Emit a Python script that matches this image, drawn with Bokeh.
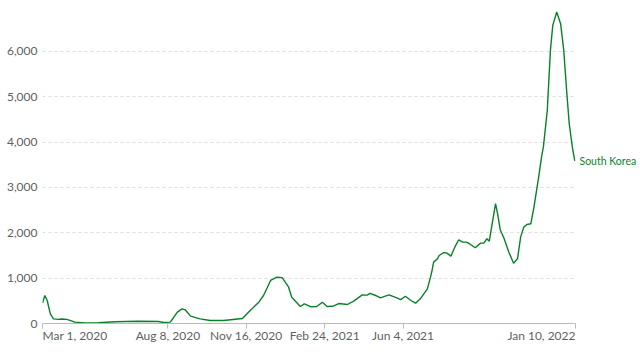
import pandas as pd
from bokeh.plotting import figure
from bokeh.models import Range1d, FixedTicker, NumeralTickFormatter, ColumnDataSource
from bokeh.core.properties import value
from bokeh.embed import file_html
from bokeh.resources import INLINE

series_name = "South Korea"

dates = [
    "2020-03-01", "2020-03-04", "2020-03-07", "2020-03-11", "2020-03-15", "2020-03-21",
    "2020-03-26", "2020-04-01", "2020-04-05", "2020-04-11", "2020-04-24", "2020-05-11",
    "2020-06-02", "2020-07-01", "2020-07-27", "2020-08-02", "2020-08-11", "2020-08-14",
    "2020-08-20", "2020-08-26", "2020-08-30", "2020-09-06", "2020-09-18", "2020-10-01",
    "2020-10-18", "2020-11-11", "2020-11-21", "2020-12-02", "2020-12-08", "2020-12-17",
    "2020-12-25", "2021-01-01", "2021-01-09", "2021-01-13", "2021-01-24", "2021-01-29",
    "2021-02-06", "2021-02-14", "2021-02-21", "2021-02-27", "2021-03-06", "2021-03-14",
    "2021-03-25", "2021-04-02", "2021-04-13", "2021-04-19", "2021-04-23", "2021-04-30",
    "2021-05-06", "2021-05-17", "2021-05-27", "2021-06-01", "2021-06-07", "2021-06-14",
    "2021-06-20", "2021-06-26", "2021-07-05", "2021-07-09", "2021-07-11", "2021-07-13",
    "2021-07-18", "2021-07-20", "2021-07-26", "2021-07-30", "2021-08-04", "2021-08-09",
    "2021-08-14", "2021-08-19", "2021-08-24", "2021-08-29", "2021-09-04", "2021-09-11",
    "2021-09-15", "2021-09-19", "2021-09-22", "2021-09-25", "2021-09-30", "2021-10-03",
    "2021-10-06", "2021-10-11", "2021-10-17", "2021-10-23", "2021-10-28", "2021-11-01",
    "2021-11-05", "2021-11-09", "2021-11-14", "2021-11-18", "2021-11-24", "2021-11-28",
    "2021-11-30", "2021-12-05", "2021-12-09", "2021-12-12", "2021-12-17", "2021-12-22",
    "2021-12-26", "2021-12-30", "2022-01-02", "2022-01-06", "2022-01-09", "2022-01-10",
]
cases = [
    450, 618, 507, 214, 103, 90,
    98, 92, 70, 30, 10, 15,
    37, 50, 44, 22, 30, 100,
    250, 324, 302, 162, 103, 66,
    66, 110, 287, 471, 618, 949,
    1022, 1008, 801, 580, 375, 434,
    370, 375, 470, 375, 380, 440,
    419, 492, 630, 625, 665, 618,
    567, 633, 565, 525, 600, 507,
    448, 545, 765, 1022, 1169, 1353,
    1427, 1500, 1566, 1551, 1485, 1683,
    1846, 1794, 1794, 1743, 1670, 1772,
    1772, 1869, 1816, 2125, 2641, 2383,
    2067, 1869, 1573, 1330, 1427, 1904,
    2125, 2184, 2199, 2566, 3228, 3706,
    3889, 4699, 6023, 6575, 6870, 6612,
    6023, 5067, 4405, 3889, 3596, 3590,
]

tick_dates = ["2020-03-01", "2020-08-08", "2020-11-16", "2021-02-24", "2021-06-04", "2022-01-10"]
tick_labels = ["Mar 1, 2020", "Aug 8, 2020", "Nov 16, 2020", "Feb 24, 2021", "Jun 4, 2021", "Jan 10, 2022"]
y_ticks = [0, 1000, 2000, 3000, 4000, 5000, 6000]


def to_ms(d):
    return pd.Timestamp(d).timestamp() * 1000.0


x = [to_ms(d) for d in dates]
tick_ms = [to_ms(d) for d in tick_dates]

GREEN = "#08812a"
GRAY = "#5f5f5f"
FONT = "Lato"

p = figure(width=640, height=352, x_axis_type="datetime", output_backend="svg",
           toolbar_location=None, min_border_left=42, min_border_right=65,
           min_border_top=11, min_border_bottom=29)
p.x_range = Range1d(tick_ms[0], tick_ms[-1])
p.y_range = Range1d(0, max(cases) + 10)
p.outline_line_color = None
p.background_fill_color = "white"
p.border_fill_color = "white"

p.line(x, cases, line_color=GREEN, line_width=1.4)

# y axis
p.yaxis.ticker = FixedTicker(ticks=y_ticks)
p.yaxis.formatter = NumeralTickFormatter(format="0,0")
p.yaxis.axis_line_color = None
p.yaxis.major_tick_line_color = None
p.yaxis.minor_tick_line_color = None
p.yaxis.major_tick_out = 0
p.yaxis.minor_tick_out = 0
p.yaxis.major_label_text_font = FONT
p.yaxis.major_label_text_font_size = "12px"
p.yaxis.major_label_text_color = GRAY
p.yaxis.major_label_standoff = 5

p.ygrid.ticker = FixedTicker(ticks=y_ticks[1:])
p.ygrid.grid_line_color = "#dddddd"
p.ygrid.grid_line_dash = "3 3"
p.xgrid.grid_line_color = None

# x axis
p.xaxis.ticker = FixedTicker(ticks=tick_ms)
p.xaxis.axis_line_color = "#bbbbbb"
p.xaxis.major_tick_line_color = "#bbbbbb"
p.xaxis.major_tick_in = 0
p.xaxis.major_tick_out = 5
p.xaxis.minor_tick_out = 0
p.xaxis.minor_tick_line_color = None
p.xaxis.major_label_text_color = None
p.xaxis.major_label_text_font_size = "1px"

n = len(tick_labels)
aligns = ["left" if i == 0 else ("right" if i == n - 1 else "center") for i in range(n)]
tick_src = ColumnDataSource(dict(x=tick_ms, y=[0] * n, text=tick_labels, align=aligns))
r1 = p.text(x="x", y="y", text="text", source=tick_src, text_align="align",
            text_baseline="top", y_offset=4, text_font=value(FONT),
            text_font_size="12px", text_color=GRAY)
r1.level = "overlay"

end_src = ColumnDataSource(dict(x=[x[-1]], y=[cases[-1]], text=[series_name]))
r2 = p.text(x="x", y="y", text="text", source=end_src, x_offset=4,
            text_baseline="middle", text_align="left", text_font=value(FONT),
            text_font_size="10.5px", text_color=GREEN)
r2.level = "overlay"

open("out.html", "w").write(file_html(p, INLINE))
